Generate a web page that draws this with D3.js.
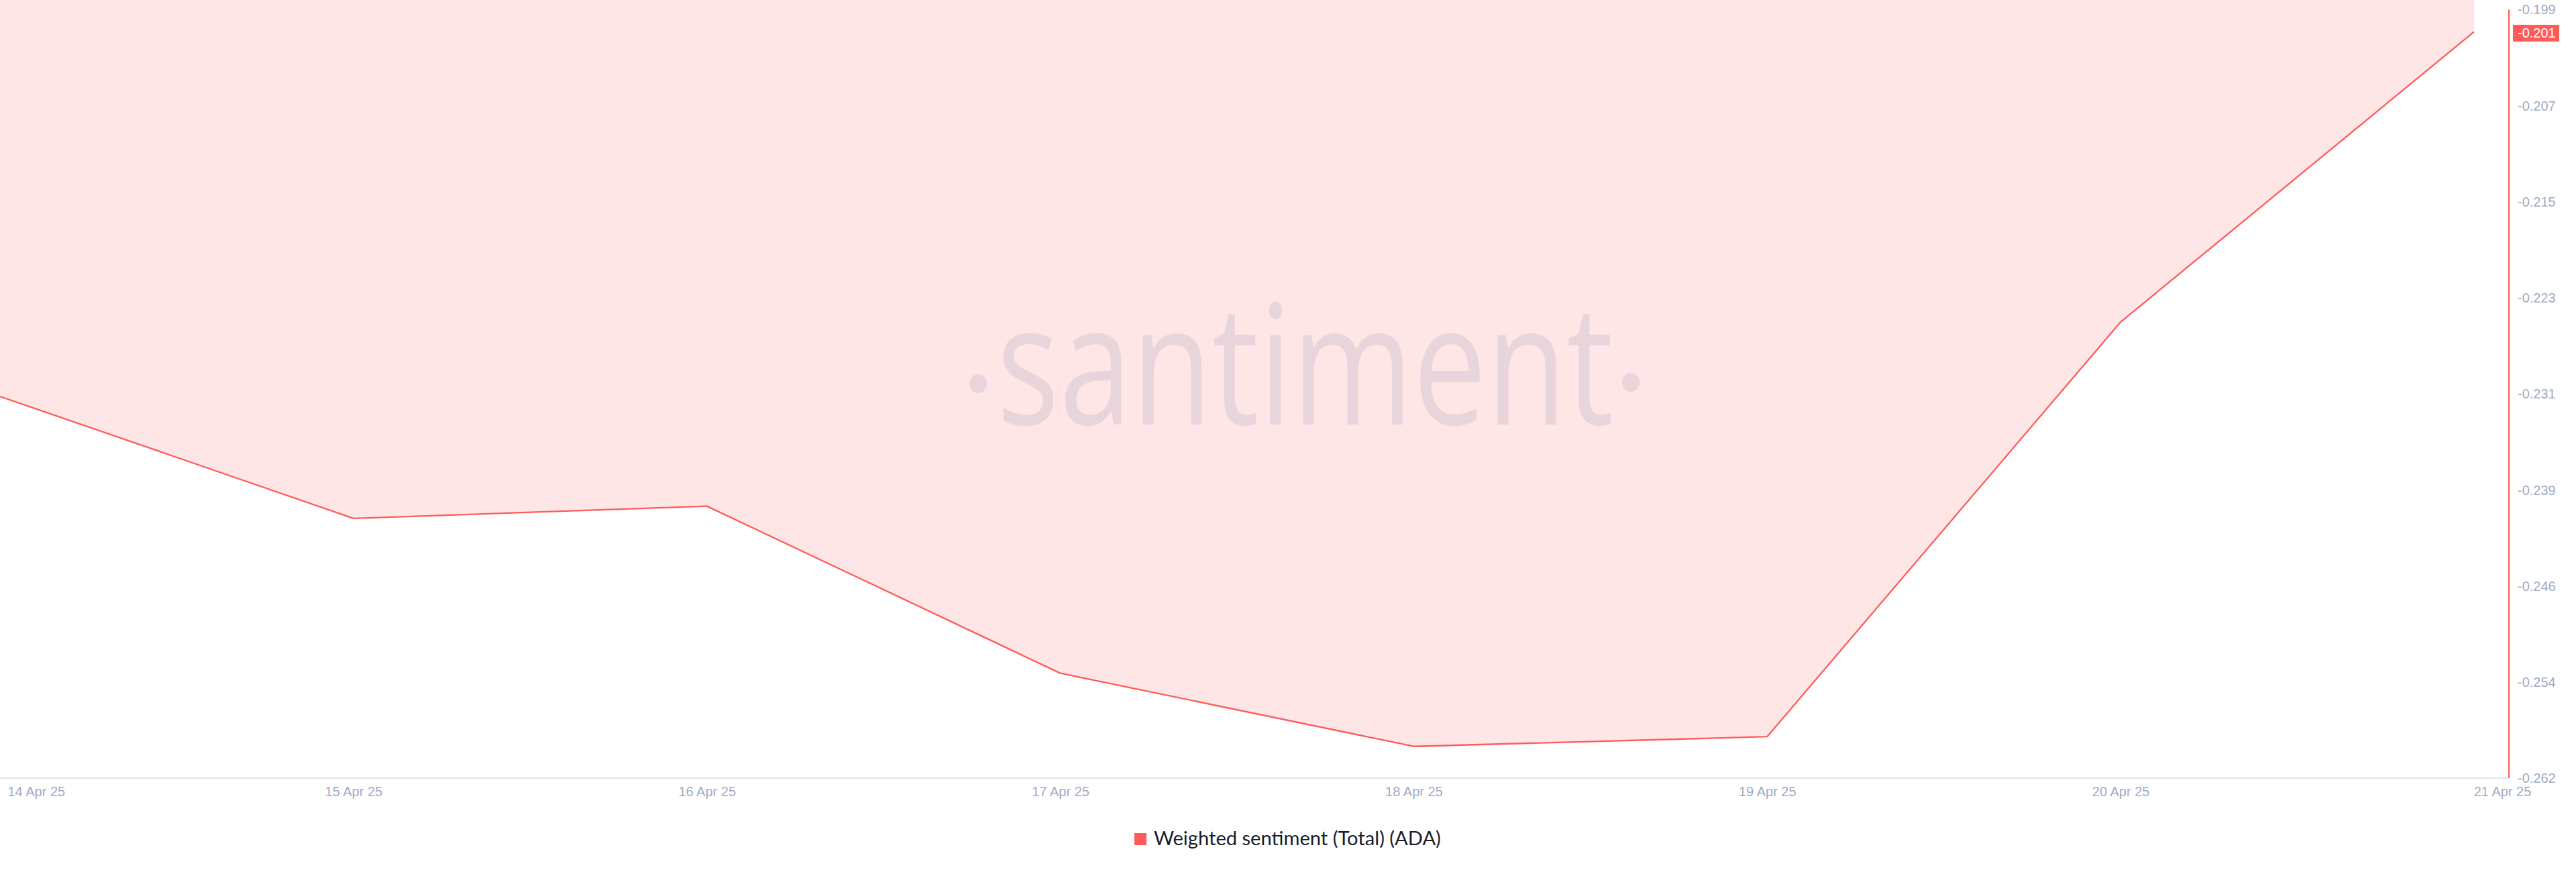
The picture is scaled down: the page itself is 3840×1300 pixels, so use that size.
<!DOCTYPE html>
<html>
<head>
<meta charset="utf-8">
<script src="https://cdn.jsdelivr.net/npm/d3@7"></script>
<style>
  html, body { margin: 0; padding: 0; background: #ffffff; }
  svg { display: block; }
</style>
</head>
<body>
<svg id="chart" width="3840" height="1300"></svg>
<script>
// ---- data ----
const dates = ["14 Apr 25", "15 Apr 25", "16 Apr 25", "17 Apr 25", "18 Apr 25", "19 Apr 25", "20 Apr 25", "21 Apr 25"];
const sentiment = [-0.2309, -0.2409, -0.2399, -0.2536, -0.2596, -0.2588, -0.2248, -0.201];
const yTickValues = [-0.2622, -0.25432, -0.24644, -0.23856, -0.23068, -0.2228, -0.21492, -0.20704, -0.19916];
const yTickLabels = ["-0.262", "-0.254", "-0.246", "-0.239", "-0.231", "-0.223", "-0.215", "-0.207", "-0.199"];
const seriesName = "Weighted sentiment (Total) (ADA)";
const lastLabel = "-0.201";

// ---- layout ----
const svg = d3.select("#chart");
const plotLeft = 0, plotRight = 3740, lineRight = 3688, plotTop = 14, plotBottom = 1160;
const red = "#ff5b5b", tickColor = "#9faac4";

const x = d3.scalePoint().domain(dates).range([plotLeft, lineRight]);
const y = d3.scaleLinear().domain([yTickValues[0], yTickValues[yTickValues.length - 1]]).range([plotBottom, plotTop]);

const data = dates.map((d, i) => ({ d, v: sentiment[i] }));

// area fill (from top of chart to line)
svg.append("path")
  .datum(data)
  .attr("fill", "#ffe6e6")
  .attr("d", d3.area().x(p => x(p.d)).y0(0).y1(p => y(p.v)));

// watermark
const wm = svg.append("g").attr("fill", "#e8d5dc");
const wmText = wm.append("text")
  .attr("font-family", "'Open Sans', sans-serif")
  .attr("font-size", 250)
  .attr("font-weight", 500)
  .attr("x", 0).attr("y", 0)
  .text("santiment");
const bb = wmText.node().getBBox();
const targetW = 919, sx = targetW / bb.width;
wmText.attr("transform", `translate(${1486 - bb.x * sx},633) scale(${sx},1)`);
wm.append("ellipse").attr("cx", 1458).attr("cy", 572).attr("rx", 13).attr("ry", 14);
wm.append("ellipse").attr("cx", 2431).attr("cy", 570).attr("rx", 13).attr("ry", 14);

// bottom axis line
svg.append("line")
  .attr("x1", plotLeft).attr("x2", plotRight)
  .attr("y1", plotBottom).attr("y2", plotBottom)
  .attr("stroke", "#e1e5ef").attr("stroke-width", 2);

// series line
svg.append("path")
  .datum(data)
  .attr("fill", "none")
  .attr("stroke", red)
  .attr("stroke-width", 2.3)
  .attr("stroke-linejoin", "round")
  .attr("d", d3.line().x(p => x(p.d)).y(p => y(p.v)));

// right axis
const yAxis = d3.axisRight(y).tickValues(yTickValues).tickSize(0).tickPadding(13)
  .tickFormat((d, i) => yTickLabels[i]);
const gy = svg.append("g").attr("transform", `translate(${plotRight},0)`).call(yAxis);
gy.select(".domain").remove();
gy.selectAll("text")
  .attr("fill", tickColor)
  .attr("font-family", "'Liberation Sans', Arial, sans-serif")
  .attr("font-size", 20)
  .attr("dy", "0.34em");
svg.append("line")
  .attr("x1", plotRight).attr("x2", plotRight)
  .attr("y1", plotTop).attr("y2", plotBottom)
  .attr("stroke", red).attr("stroke-width", 2);

// bottom axis labels
const xAxis = d3.axisBottom(x).tickSize(0).tickPadding(0);
const gx = svg.append("g").attr("transform", `translate(0,${plotBottom})`).call(xAxis);
gx.select(".domain").remove();
gx.selectAll("text")
  .attr("fill", tickColor)
  .attr("font-family", "'Liberation Sans', Arial, sans-serif")
  .attr("font-size", 20)
  .attr("dy", null)
  .attr("y", 27)
  .each(function (d, i) {
    const t = d3.select(this);
    if (i === 0) t.attr("text-anchor", "start").attr("x", 11);
    else if (i === dates.length - 1) t.attr("x", 42);
  });

// last value badge
const yLast = y(sentiment[sentiment.length - 1]);
svg.append("rect")
  .attr("x", plotRight + 6).attr("y", yLast - 10.5)
  .attr("width", 69).attr("height", 25)
  .attr("fill", red);
svg.append("text")
  .attr("x", plotRight + 13).attr("y", yLast + 9)
  .attr("fill", "#ffffff")
  .attr("font-family", "'Liberation Sans', Arial, sans-serif")
  .attr("font-size", 20)
  .text(lastLabel);

// legend
svg.append("rect")
  .attr("x", 1691).attr("y", 1242).attr("width", 18).attr("height", 18)
  .attr("fill", red);
const lg = svg.append("text")
  .attr("x", 1720).attr("y", 1260)
  .attr("fill", "#181b2c")
  .attr("font-family", "Lato, 'Open Sans', sans-serif")
  .attr("font-size", 27)
  .text(seriesName);
const lw = lg.node().getComputedTextLength();
lg.attr("font-size", 27 * 428 / lw);
</script>
</body>
</html>
